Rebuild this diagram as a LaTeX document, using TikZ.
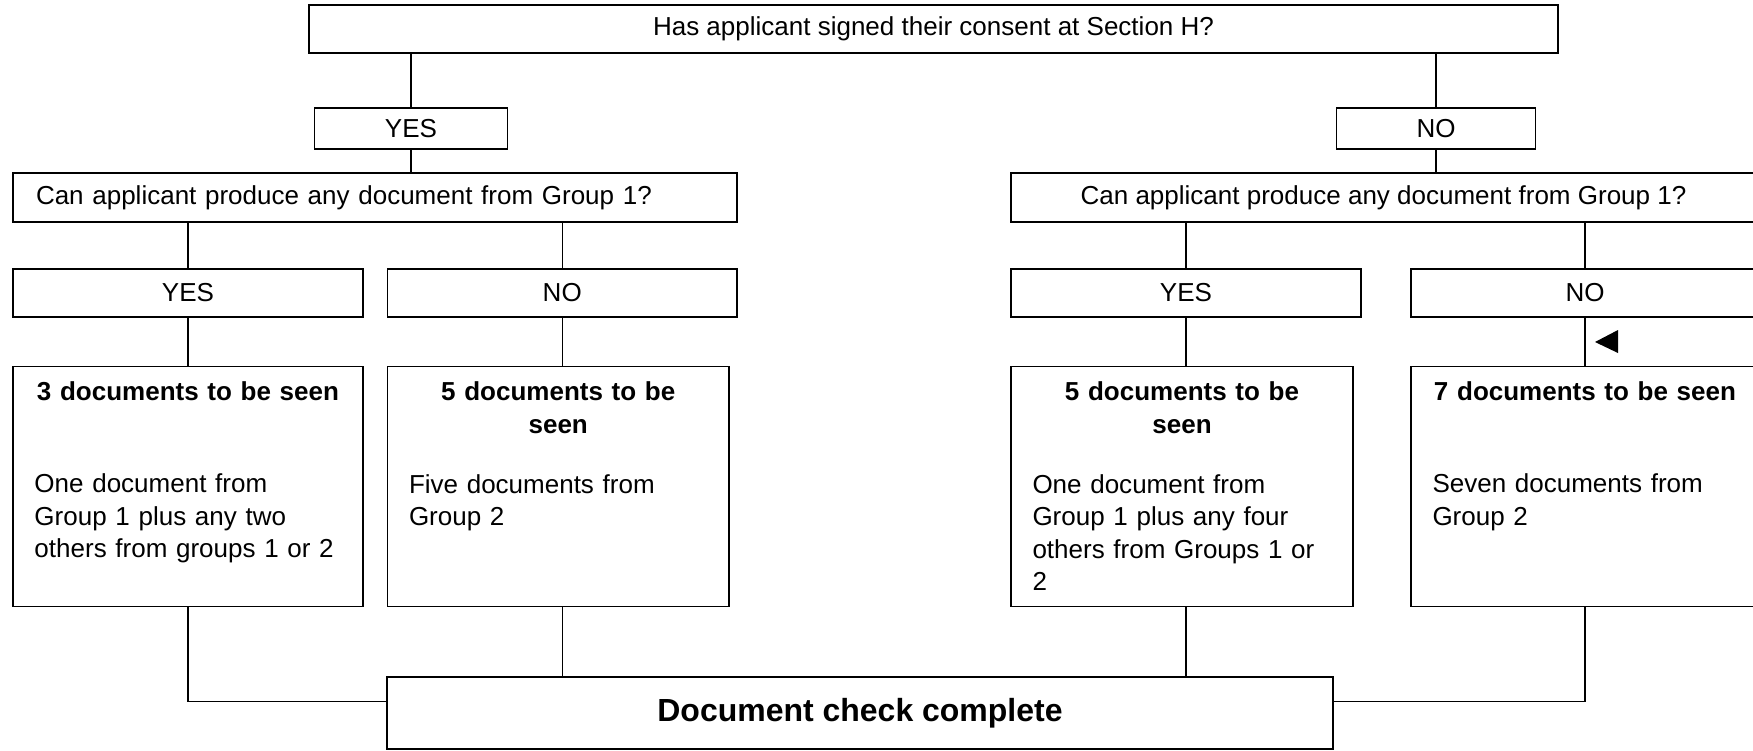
\documentclass[tikz,border=0pt]{standalone}
\usepackage{fontspec}
\setmainfont{Liberation Sans}
\newcommand{\basefont}{\fontsize{14.8pt}{18.5pt}\selectfont}

\tikzset{
    box/.style={draw, line width=0.8pt, inner sep=0pt, align=center, font=\basefont},
    docbox/.style={draw, line width=0.8pt, anchor=north, inner xsep=0.43cm, inner ysep=0pt,
        align=left, text height=0.68cm, text depth=4.12cm, font=\basefont},
    link/.style={line width=0.8pt}
}

\begin{document}
\begin{tikzpicture}
        \useasboundingbox (0,0) rectangle (35.06,-15);
        \clip (0,0) rectangle (35.06,-15);

        \node[box, minimum width=24.98cm, minimum height=0.96cm] (consent) at (18.67,-0.58) {Has applicant signed their consent at Section H?};
        \node[box, minimum width=3.86cm, minimum height=0.82cm] (yesA) at (8.22,-2.57) {YES};
        \node[box, minimum width=3.99cm, minimum height=0.82cm] (noA) at (28.72,-2.57) {NO};

        \node[box, minimum width=14.48cm, minimum height=0.98cm, text width=13.56cm, align=left] (groupL) at (7.5,-3.95) {Can applicant produce any document from Group 1?};
        \node[box, minimum width=14.9cm, minimum height=0.98cm] (groupR) at (27.67,-3.95) {Can applicant produce any document from Group 1?};

        \node[box, minimum width=7cm, minimum height=0.96cm] (yesL) at (3.76,-5.86) {YES};
        \node[box, minimum width=6.99cm, minimum height=0.96cm] (noL) at (11.245,-5.86) {NO};
        \node[box, minimum width=7cm, minimum height=0.96cm] (yesR) at (23.72,-5.86) {YES};
        \node[box, minimum width=6.96cm, minimum height=0.96cm] (noR) at (31.7,-5.86) {NO};

        \node[docbox, text width=6.14cm] (docsL) at (3.76,-7.32) {{\centering\bfseries 3 documents to be seen\par}\vspace{1.19cm}One document from\\Group 1 plus any two\\others from groups 1 or 2};
        \node[docbox, text width=5.97cm] (docsLno) at (11.165,-7.32) {{\centering\bfseries 5 documents to be\\seen\par}\vspace{0.55cm}Five documents from\\Group 2};
        \node[docbox, text width=5.98cm] (docsR) at (23.64,-7.32) {{\centering\bfseries 5 documents to be\\seen\par}\vspace{0.55cm}One document from\\Group 1 plus any four\\others from Groups 1 or\\2};
        \node[docbox, text width=6.1cm] (docsRno) at (31.7,-7.32) {{\centering\bfseries 7 documents to be seen\par}\vspace{1.19cm}Seven documents from\\Group 2};

        \node[box, minimum width=18.92cm, minimum height=1.44cm, font=\bfseries\fontsize{18.2pt}{22pt}\selectfont] (done) at (17.2,-14.26) {Document check complete};

        \draw[link] (yesA.north) -- (yesA.north |- consent.south);
        \draw[link] (noA.north) -- (noA.north |- consent.south);
        \draw[link] (yesA.south) -- (yesA.south |- groupL.north);
        \draw[link] (noA.south) -- (noA.south |- groupR.north);

        \draw[link] (yesL.north) -- (yesL.north |- groupL.south);
        \draw[link] (noL.north) -- (noL.north |- groupL.south);
        \draw[link] (yesR.north) -- (yesR.north |- groupR.south);
        \draw[link] (noR.north) -- (noR.north |- groupR.south);

        \draw[link] (yesL.south) -- (yesL.south |- docsL.north);
        \draw[link] (noL.south) -- (noL.south |- docsLno.north);
        \draw[link] (yesR.south) -- (yesR.south |- docsR.north);
        \draw[link] (noR.south) -- (noR.south |- docsRno.north);
        \fill (31.9,-6.84) -- (32.36,-6.6) -- (32.36,-7.06) -- cycle;

        \draw[link] (docsL.south -| yesL) |- ([yshift=-0.5cm]done.north west);
        \draw[link] (docsLno.south -| noL) -- (noL |- done.north);
        \draw[link] (docsR.south -| yesR) -- (yesR |- done.north);
        \draw[link] (docsRno.south -| noR) |- ([yshift=-0.5cm]done.north east);
\end{tikzpicture}
\end{document}
